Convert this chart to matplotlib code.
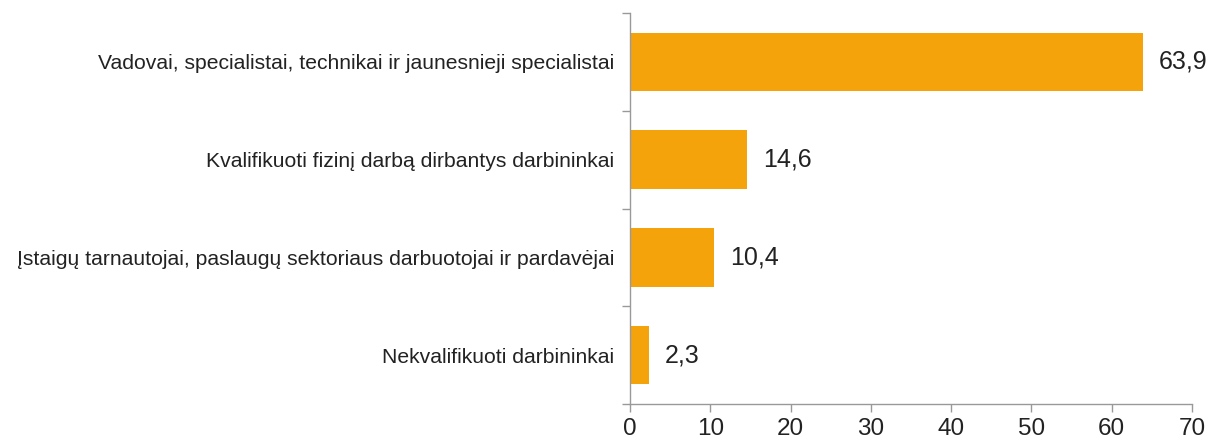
import matplotlib
matplotlib.use("Agg")
import matplotlib.pyplot as plt
from matplotlib.ticker import FixedLocator

categories = [
    "Vadovai, specialistai, technikai ir jaunesnieji specialistai",
    "Kvalifikuoti fizinį darbą dirbantys darbininkai",
    "Įstaigų tarnautojai, paslaugų sektoriaus darbuotojai ir pardavėjai",
    "Nekvalifikuoti darbininkai",
]
values = [63.9, 14.6, 10.4, 2.3]
xticks = [0, 10, 20, 30, 40, 50, 60, 70]

plt.rcParams['font.family'] = ['Liberation Sans', 'DejaVu Sans']

fig = plt.figure(figsize=(12.12, 4.44), dpi=100)
ax = fig.add_axes([0.52, 0.09, 0.4635, 0.8807])

n = len(categories)
ypos = list(range(n))
ax.barh(ypos, values, height=0.6, color="#F5A30A", zorder=2)
ax.set_ylim(n - 0.5, -0.5)
ax.set_xlim(0, 70)

ax.set_yticks(ypos)
ax.set_yticklabels(categories, fontsize=15.2, color="#222222")
ax.tick_params(axis='y', which='major', length=0, pad=11.5)
ax.yaxis.set_minor_locator(FixedLocator([i - 0.5 for i in range(n + 1)]))
ax.tick_params(axis='y', which='minor', length=6, width=1, color="#999999")

ax.set_xticks(xticks)
ax.set_xticklabels([str(t) for t in xticks], fontsize=17.5, color="#222222")
ax.tick_params(axis='x', length=6, width=1, color="#999999", pad=4)

for s in ['top', 'right']:
    ax.spines[s].set_visible(False)
for s in ['left', 'bottom']:
    ax.spines[s].set_color("#999999")
    ax.spines[s].set_linewidth(1)

for y, v in zip(ypos, values):
    ax.text(v + 2, y, f"{v:.1f}".replace('.', ','), va='center', ha='left',
            fontsize=18, color="#222222")

fig.savefig("out.png", dpi=100)
